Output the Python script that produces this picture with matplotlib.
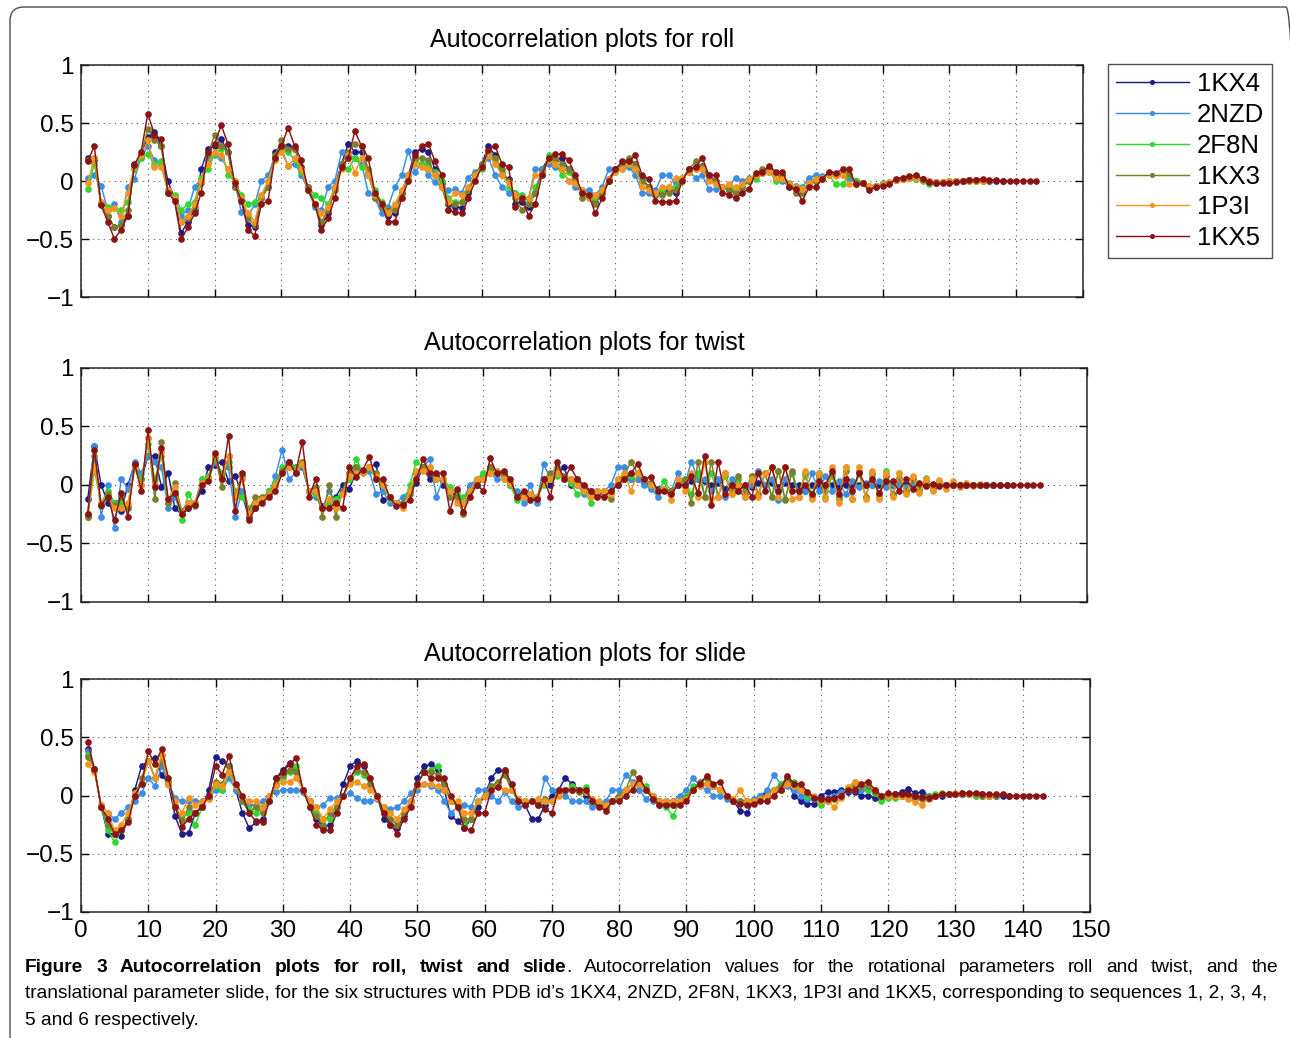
import matplotlib
matplotlib.use("Agg")
import matplotlib.pyplot as plt
from matplotlib import font_manager
from matplotlib.patches import FancyBboxPatch
from matplotlib.transforms import IdentityTransform

plt.rcParams['font.family'] = ['Liberation Sans', 'DejaVu Sans']

# ---------------- data (autocorrelation vs lag, lag starts at 1) ----------------
names = ["1KX4", "2NZD", "2F8N", "1KX3", "1P3I", "1KX5"]
colors = ["#1c1c86", "#3a8ee6", "#2fd82f", "#7d7d2c", "#f5951f", "#8a1414"]

roll_1kx4 = [0.20, 0.18, -0.20, -0.30, -0.40, -0.38, -0.30, 0.15, 0.22, 0.38, 0.42, 0.30, 0.00, -0.15, -0.45, -0.35, -0.25, 0.10, 0.28, 0.30,
             0.36, 0.25, -0.05, -0.15, -0.38, -0.40, -0.15, -0.05, 0.25, 0.30, 0.30, 0.28, 0.12, -0.05, -0.20, -0.38, -0.28, -0.05, 0.15, 0.32,
             0.25, 0.25, 0.05, -0.12, -0.20, -0.30, -0.28, -0.10, 0.05, 0.25, 0.28, 0.25, 0.10, -0.02, -0.20, -0.22, -0.23, -0.10, 0.05, 0.15,
             0.30, 0.22, 0.05, 0.02, -0.20, -0.18, -0.22, -0.10, 0.10, 0.20, 0.18, 0.20, 0.10, 0.00, -0.10, -0.12, -0.18, -0.10, 0.02, 0.10,
             0.12, 0.18, 0.15, 0.02, -0.05, -0.12, -0.10, -0.08, -0.10, 0.02, 0.10, 0.12, 0.13, 0.05, 0.00, -0.05, -0.08, -0.10, -0.05, 0.00,
             0.05, 0.08, 0.10, 0.05, 0.03, -0.03, -0.05, -0.08, -0.03, 0.00, 0.03, 0.06, 0.05, 0.06, 0.05, 0.00, -0.02, -0.05, -0.04, -0.03,
             -0.02, 0.01, 0.02, 0.03, 0.03, 0.02, 0.00, -0.01, -0.01, -0.01, 0.00, 0.00, 0.01, 0.01, 0.01, 0.00, 0.00, 0.00]
roll_2nzd = [0.03, 0.05, -0.04, -0.25, -0.20, -0.35, -0.05, 0.02, 0.20, 0.30, 0.18, 0.15, -0.08, -0.15, -0.30, -0.25, -0.05, 0.02, 0.18, 0.22,
             0.20, 0.10, 0.00, -0.27, -0.30, -0.20, 0.00, 0.05, 0.20, 0.28, 0.13, 0.15, 0.05, -0.08, -0.22, -0.25, -0.05, 0.00, 0.25, 0.22,
             0.20, 0.15, -0.10, -0.15, -0.28, -0.22, -0.05, 0.05, 0.26, 0.08, 0.15, 0.05, -0.01, -0.05, -0.08, -0.07, -0.10, 0.03, 0.08, 0.12,
             0.20, 0.05, -0.05, -0.10, -0.10, -0.15, -0.15, 0.10, 0.10, 0.15, 0.12, 0.10, 0.00, -0.05, -0.08, -0.08, -0.12, -0.05, 0.10, 0.10,
             0.10, 0.12, 0.05, -0.10, -0.10, -0.08, 0.05, 0.05, -0.02, 0.03, 0.08, 0.03, 0.05, -0.07, -0.07, -0.05, -0.05, 0.03, 0.00, 0.03,
             0.05, 0.07, 0.08, 0.02, 0.00, -0.05, -0.04, -0.05, 0.03, 0.05, 0.04, 0.07, 0.05, 0.05, 0.02, -0.02, -0.02, -0.04, -0.04, -0.02,
             -0.01, 0.01, 0.02, 0.03, 0.02, 0.01, 0.00, -0.01, -0.01, 0.00, 0.00, 0.00, 0.00, 0.00, 0.00, 0.00]
roll_2f8n = [-0.07, 0.15, -0.18, -0.22, -0.23, -0.25, -0.18, 0.10, 0.20, 0.23, 0.15, 0.17, -0.10, -0.12, -0.25, -0.20, -0.18, 0.03, 0.10, 0.23,
             0.28, 0.05, 0.00, -0.12, -0.20, -0.18, -0.15, 0.00, 0.18, 0.28, 0.25, 0.18, 0.08, -0.05, -0.12, -0.15, -0.20, -0.05, 0.12, 0.10,
             0.20, 0.12, 0.08, -0.08, -0.18, -0.25, -0.22, -0.08, 0.02, 0.18, 0.15, 0.15, 0.08, 0.00, -0.15, -0.18, -0.18, -0.08, 0.05, 0.10,
             0.22, 0.18, 0.08, -0.05, -0.10, -0.12, -0.18, -0.05, 0.05, 0.22, 0.15, 0.05, 0.08, 0.00, -0.08, -0.12, -0.15, -0.10, 0.00, 0.08,
             0.12, 0.15, 0.12, 0.00, -0.05, -0.10, -0.08, -0.05, -0.05, 0.02, 0.08, 0.10, 0.12, 0.02, -0.02, -0.05, -0.05, -0.08, -0.05, 0.00,
             0.02, 0.07, 0.10, 0.00, 0.05, -0.02, -0.05, -0.06, -0.02, 0.02, 0.03, 0.05, -0.03, -0.03, 0.05, 0.00, -0.02, -0.05, -0.04, -0.03,
             -0.02, 0.01, 0.02, 0.03, 0.02, 0.00, -0.03, -0.02, -0.01, 0.00, 0.00, 0.00, 0.00, 0.00]
roll_1kx3 = [0.18, 0.20, -0.20, -0.30, -0.40, -0.38, -0.25, 0.12, 0.22, 0.45, 0.35, 0.30, -0.08, -0.15, -0.35, -0.32, -0.22, -0.02, 0.22, 0.40,
             0.30, 0.25, -0.05, -0.15, -0.32, -0.38, -0.15, -0.05, 0.22, 0.35, 0.28, 0.28, 0.10, -0.05, -0.20, -0.35, -0.25, -0.08, 0.15, 0.25,
             0.32, 0.30, 0.10, -0.15, -0.22, -0.25, -0.25, -0.10, 0.05, 0.20, 0.20, 0.18, 0.05, -0.05, -0.25, -0.20, -0.18, -0.08, 0.05, 0.15,
             0.25, 0.20, 0.10, 0.00, -0.15, -0.25, -0.20, -0.10, 0.08, 0.18, 0.20, 0.15, 0.10, 0.02, -0.15, -0.12, -0.20, -0.10, 0.00, 0.10,
             0.15, 0.20, 0.15, 0.00, -0.05, -0.12, -0.12, -0.10, -0.08, 0.02, 0.10, 0.17, 0.12, 0.02, 0.00, -0.05, -0.08, -0.10, -0.05, 0.00,
             0.05, 0.10, 0.10, 0.05, 0.05, -0.03, -0.10, -0.10, -0.03, 0.00, 0.02, 0.06, 0.05, 0.07, 0.06, -0.02, -0.02, -0.05, -0.05, -0.03,
             -0.02, 0.01, 0.03, 0.03, 0.04, 0.01, -0.01, -0.02, -0.01, -0.01, 0.00, 0.00, 0.01, 0.01, 0.00, 0.00]
roll_1p3i = [-0.02, 0.20, -0.18, -0.25, -0.23, -0.30, -0.10, 0.12, 0.22, 0.35, 0.12, 0.12, -0.08, -0.15, -0.35, -0.30, -0.20, 0.00, 0.15, 0.25,
             0.22, 0.10, 0.00, -0.15, -0.28, -0.35, -0.12, 0.00, 0.18, 0.25, 0.13, 0.20, 0.10, -0.08, -0.20, -0.28, -0.22, -0.05, 0.10, 0.22,
             0.07, 0.20, 0.05, -0.12, -0.20, -0.28, -0.20, -0.08, 0.05, 0.15, 0.12, 0.10, 0.05, -0.05, -0.18, -0.10, -0.12, -0.05, 0.05, 0.12,
             0.22, 0.15, 0.05, -0.02, -0.12, -0.15, -0.15, 0.05, 0.05, 0.18, 0.15, 0.10, 0.00, -0.02, -0.08, -0.15, -0.12, -0.08, 0.02, 0.08,
             0.10, 0.15, 0.10, -0.05, -0.08, -0.10, -0.05, -0.05, 0.03, 0.03, 0.08, 0.10, 0.10, 0.00, -0.03, -0.05, -0.03, -0.05, -0.03, 0.02,
             0.05, 0.07, 0.08, 0.03, 0.02, -0.03, -0.05, -0.07, -0.02, 0.02, 0.03, 0.05, 0.04, 0.05, -0.03, -0.03, -0.02, -0.04, -0.04, -0.03,
             -0.01, 0.01, 0.02, 0.03, 0.03, 0.01, 0.00, -0.01, -0.01, 0.00, 0.00, 0.00, 0.00, 0.00, 0.00]
roll_1kx5 = [0.17, 0.30, -0.21, -0.35, -0.50, -0.42, -0.30, 0.14, 0.25, 0.58, 0.40, 0.36, -0.10, -0.17, -0.50, -0.40, -0.28, -0.10, 0.25, 0.32,
             0.48, 0.32, -0.02, -0.17, -0.42, -0.47, -0.20, -0.17, 0.20, 0.30, 0.46, 0.30, 0.18, -0.08, -0.20, -0.42, -0.32, -0.15, 0.12, 0.20,
             0.43, 0.30, 0.20, -0.10, -0.20, -0.35, -0.35, -0.15, 0.00, 0.22, 0.30, 0.32, 0.17, 0.05, -0.25, -0.27, -0.28, -0.15, 0.00, 0.12,
             0.27, 0.30, 0.15, 0.12, -0.22, -0.15, -0.30, -0.20, 0.05, 0.20, 0.23, 0.23, 0.18, 0.05, -0.10, -0.12, -0.28, -0.15, 0.00, 0.10,
             0.17, 0.17, 0.22, 0.05, 0.02, -0.17, -0.18, -0.18, -0.17, 0.00, 0.10, 0.12, 0.20, 0.05, 0.05, -0.10, -0.12, -0.15, -0.10, -0.07,
             0.07, 0.08, 0.13, 0.08, 0.08, -0.05, -0.07, -0.17, -0.05, -0.05, 0.02, 0.08, 0.07, 0.10, 0.10, -0.03, -0.02, -0.08, -0.05, -0.04,
             -0.03, 0.02, 0.03, 0.04, 0.05, 0.02, -0.01, -0.02, -0.02, -0.02, -0.01, 0.00, 0.01, 0.01, 0.02, 0.01, 0.01, 0.00, 0.00, 0.00,
             0.00, 0.00, 0.00]

twist_1kx4 = [-0.12, 0.33, 0.00, -0.15, -0.15, -0.22, 0.00, 0.18, 0.05, 0.25, 0.25, -0.02, 0.10, -0.20, -0.25, -0.20, -0.15, -0.05, 0.15, 0.17,
              0.20, 0.03, 0.08, -0.08, -0.27, -0.20, -0.12, -0.05, 0.00, 0.12, 0.20, 0.15, 0.15, -0.05, -0.05, -0.18, -0.15, -0.10, 0.00, -0.03,
              0.10, 0.12, 0.15, 0.18, -0.13, -0.10, -0.15, -0.15, -0.05, 0.02, 0.15, 0.05, 0.08, 0.00, -0.05, -0.10, -0.15, -0.02, 0.00, 0.05,
              0.15, 0.10, 0.10, 0.00, -0.08, -0.10, -0.10, -0.12, 0.05, 0.00, 0.10, 0.15, 0.00, 0.05, -0.03, -0.05, -0.08, -0.05, -0.05, 0.00,
              0.05, 0.05, 0.05, 0.02, 0.00, -0.03, -0.03, -0.05, 0.00, 0.00, 0.03, 0.05, 0.03, 0.00, 0.02, -0.03, 0.00, -0.02, 0.00, -0.02,
              0.02, 0.00, 0.02, -0.02, 0.02, 0.00, 0.00, -0.05, 0.00, -0.02, 0.00, 0.00, -0.02, 0.00, 0.00, 0.00, 0.00, 0.00, 0.00, 0.00,
              0.00, 0.00, 0.00, 0.00, 0.00, 0.00, 0.00, 0.00, 0.00, 0.00, 0.00, 0.00, 0.00, 0.00, 0.00, 0.00, 0.00, 0.00]
twist_2nzd = [-0.25, 0.33, -0.27, 0.00, -0.37, 0.05, -0.03, 0.20, 0.10, 0.25, 0.20, 0.15, -0.20, -0.10, -0.25, -0.15, -0.15, 0.05, 0.05, 0.20,
              0.10, 0.15, -0.27, -0.05, -0.25, -0.15, -0.12, -0.08, 0.08, 0.30, 0.05, 0.10, 0.15, -0.05, -0.10, -0.20, -0.05, -0.15, -0.05, 0.05,
              0.15, 0.10, 0.12, -0.08, -0.05, -0.15, -0.15, -0.10, -0.05, 0.10, 0.15, 0.22, -0.10, 0.05, -0.05, -0.05, -0.12, 0.00, 0.05, 0.08,
              0.10, 0.05, 0.10, 0.00, -0.05, -0.15, 0.00, -0.15, 0.18, 0.05, 0.10, 0.05, 0.05, 0.00, -0.08, -0.05, -0.05, -0.05, 0.00, 0.15,
              0.15, 0.05, 0.05, 0.00, -0.03, -0.10, -0.03, -0.05, 0.10, 0.00, 0.20, 0.05, 0.05, -0.05, 0.05, -0.10, 0.05, -0.05, -0.10, 0.00,
              0.12, 0.00, 0.05, -0.13, 0.05, 0.10, -0.05, -0.05, 0.10, -0.05, 0.08, -0.05, 0.03, -0.08, 0.03, -0.02, 0.02, 0.00, 0.03, -0.02,
              0.01, 0.00, -0.02, 0.01, 0.00, 0.00, 0.00, 0.00, 0.00, 0.00, 0.00, 0.00, 0.00, 0.00, 0.00, 0.00]
twist_2f8n = [-0.27, 0.12, -0.15, -0.05, -0.15, -0.15, -0.18, 0.15, 0.05, 0.35, 0.05, 0.25, -0.15, -0.05, -0.30, -0.08, -0.18, 0.05, 0.08, 0.22,
              0.10, 0.20, -0.05, -0.10, -0.20, -0.15, -0.12, -0.05, 0.02, 0.15, 0.18, 0.15, 0.20, -0.05, -0.08, -0.20, -0.15, -0.12, -0.05, 0.05,
              0.22, 0.12, 0.15, 0.05, 0.00, -0.12, -0.15, -0.18, 0.00, 0.20, 0.15, 0.15, 0.05, 0.05, -0.02, -0.08, -0.10, -0.05, 0.05, 0.10,
              0.10, 0.12, 0.05, 0.00, -0.13, -0.10, -0.10, -0.10, 0.00, 0.05, 0.08, 0.05, 0.02, -0.08, -0.05, -0.15, -0.05, -0.05, -0.05, 0.02,
              0.05, 0.08, 0.10, 0.05, 0.00, -0.05, 0.03, -0.05, 0.02, 0.05, -0.08, 0.10, -0.10, 0.10, -0.10, 0.08, -0.08, 0.05, -0.05, 0.08,
              -0.08, 0.10, -0.10, 0.12, -0.12, 0.10, -0.10, 0.08, -0.08, 0.10, -0.10, 0.08, -0.12, 0.15, -0.12, 0.10, -0.10, 0.08, -0.10, 0.12,
              -0.08, 0.10, -0.05, 0.05, -0.05, 0.06, -0.03, 0.03, 0.00, 0.02, 0.00, 0.01, 0.00, 0.00]
twist_1kx3 = [-0.27, 0.25, -0.18, -0.08, -0.18, -0.10, -0.20, 0.15, 0.00, 0.40, -0.12, 0.37, -0.15, 0.02, -0.22, -0.15, -0.15, 0.02, 0.05, 0.25,
              -0.02, 0.25, -0.10, 0.08, -0.22, -0.10, -0.10, -0.08, 0.00, 0.12, 0.15, 0.12, 0.20, -0.05, -0.02, -0.27, 0.00, -0.27, -0.05, 0.10,
              0.15, 0.12, 0.15, 0.10, 0.00, -0.10, -0.15, -0.15, -0.08, 0.10, 0.15, 0.10, 0.05, 0.05, -0.10, -0.10, -0.25, -0.05, 0.00, 0.05,
              0.15, 0.10, 0.08, 0.02, -0.10, -0.08, -0.08, -0.10, 0.05, 0.10, 0.15, 0.08, 0.05, 0.02, -0.05, -0.08, -0.05, -0.08, -0.12, 0.05,
              0.08, 0.20, 0.10, 0.05, 0.02, -0.05, -0.03, -0.05, 0.00, 0.05, -0.15, 0.20, -0.10, 0.20, -0.10, 0.10, -0.05, 0.08, -0.08, 0.08,
              -0.08, 0.10, -0.10, 0.12, -0.13, 0.12, -0.10, 0.10, -0.10, 0.08, -0.05, 0.10, -0.10, 0.12, -0.12, 0.12, -0.10, 0.10, -0.08, 0.08,
              -0.08, 0.06, -0.05, 0.05, -0.03, 0.03, -0.02, 0.02, 0.00, 0.00, 0.00, 0.00, 0.00, 0.00, 0.00, 0.00]
twist_1p3i = [-0.25, 0.15, -0.15, -0.10, -0.20, -0.20, -0.15, 0.15, 0.00, 0.40, 0.00, 0.28, -0.12, -0.02, -0.25, -0.15, -0.15, 0.02, 0.05, 0.25,
              0.05, 0.25, -0.10, 0.05, -0.25, -0.15, -0.12, -0.08, 0.00, 0.10, 0.15, 0.12, 0.18, -0.05, -0.05, -0.20, -0.12, -0.20, -0.08, 0.08,
              0.10, 0.10, 0.15, 0.08, 0.00, -0.10, -0.15, -0.20, -0.05, 0.12, 0.12, 0.15, 0.05, 0.05, -0.05, -0.15, -0.15, -0.05, 0.05, 0.05,
              0.10, 0.12, 0.05, 0.02, -0.10, -0.10, -0.08, -0.10, 0.02, 0.05, 0.10, 0.05, 0.05, 0.00, -0.05, -0.10, -0.05, -0.05, -0.08, 0.05,
              0.10, -0.05, 0.10, 0.05, 0.00, -0.05, -0.03, -0.13, 0.05, -0.05, 0.10, -0.10, 0.20, -0.12, -0.10, 0.10, -0.08, 0.00, -0.10, 0.05,
              -0.10, 0.10, 0.15, -0.10, 0.15, -0.12, -0.10, 0.12, -0.12, 0.10, -0.12, 0.15, -0.15, 0.15, -0.12, 0.15, -0.12, 0.12, -0.12, 0.10,
              -0.10, 0.10, -0.08, 0.08, -0.07, 0.05, -0.05, 0.04, -0.03, 0.03, -0.02, 0.02, -0.01, 0.01, 0.00]
twist_1kx5 = [-0.25, 0.30, -0.17, -0.10, -0.30, -0.07, -0.27, 0.18, -0.05, 0.47, -0.02, 0.32, -0.12, -0.07, -0.25, -0.20, -0.17, 0.00, 0.03, 0.27,
              0.05, 0.42, -0.22, 0.10, -0.30, -0.20, -0.15, -0.10, -0.05, 0.10, 0.20, 0.10, 0.37, -0.10, 0.05, -0.20, -0.20, -0.15, -0.20, 0.15,
              0.07, 0.13, 0.24, 0.05, 0.05, -0.10, -0.18, -0.17, -0.13, 0.05, 0.22, 0.10, 0.10, 0.10, -0.22, -0.03, -0.23, -0.10, 0.00, -0.05,
              0.23, 0.10, 0.12, 0.05, -0.10, -0.05, -0.13, -0.12, 0.05, -0.10, 0.20, 0.05, 0.15, 0.05, 0.00, -0.05, -0.10, -0.10, -0.05, 0.00,
              0.05, 0.10, 0.18, 0.05, 0.07, -0.05, -0.05, -0.08, 0.00, 0.00, 0.08, -0.07, 0.25, -0.17, 0.20, -0.08, 0.00, -0.05, 0.00, -0.10,
              0.10, -0.05, 0.15, -0.05, 0.15, -0.05, -0.05, 0.00, -0.08, 0.03, 0.00, 0.12, -0.08, 0.05, -0.05, 0.10, 0.00, 0.05, -0.07, 0.03,
              0.03, -0.05, 0.05, -0.03, 0.02, -0.01, 0.01, -0.01, 0.00, 0.00, 0.00, 0.00, 0.00, 0.00, 0.00, 0.00, 0.00, 0.00, 0.00, 0.00,
              0.00, 0.00, 0.00]

slide_1kx4 = [0.40, 0.23, -0.10, -0.33, -0.33, -0.35, -0.20, 0.05, 0.25, 0.30, 0.32, 0.18, 0.10, -0.18, -0.33, -0.32, -0.15, -0.10, 0.05, 0.33,
              0.30, 0.25, 0.05, -0.15, -0.28, -0.23, -0.20, -0.05, 0.15, 0.22, 0.28, 0.20, 0.05, -0.05, -0.20, -0.27, -0.25, -0.10, 0.10, 0.25,
              0.30, 0.25, 0.10, 0.00, -0.20, -0.25, -0.28, -0.18, -0.05, 0.15, 0.25, 0.27, 0.22, 0.05, -0.18, -0.22, -0.28, -0.20, -0.10, 0.00,
              0.15, 0.22, 0.20, 0.05, -0.05, -0.08, -0.20, -0.20, -0.08, 0.00, 0.05, 0.15, 0.10, 0.05, 0.00, -0.05, -0.08, -0.10, -0.05, 0.00,
              0.05, 0.10, 0.10, 0.05, -0.02, -0.05, -0.05, -0.05, -0.05, 0.00, 0.05, 0.10, 0.10, 0.08, 0.05, 0.00, -0.05, -0.13, -0.15, -0.05,
              0.00, 0.02, 0.05, 0.05, 0.12, 0.00, -0.05, -0.07, -0.07, 0.00, 0.03, 0.03, 0.05, 0.03, 0.03, 0.00, 0.00, -0.02, -0.03, 0.00,
              0.01, 0.03, 0.06, 0.02, 0.03, 0.00, 0.00, 0.00, 0.01, 0.01, 0.01, 0.01, 0.01, 0.01, 0.00, 0.00, 0.00, 0.00]
slide_2nzd = [0.38, 0.23, -0.08, -0.15, -0.20, -0.15, -0.10, -0.05, 0.02, 0.15, 0.08, 0.25, 0.10, -0.02, -0.05, -0.05, -0.05, -0.05, -0.02, 0.05,
              0.05, 0.15, 0.05, -0.05, -0.08, -0.08, -0.05, 0.00, 0.03, 0.05, 0.05, 0.05, 0.03, -0.05, -0.10, -0.08, -0.02, -0.02, 0.00, 0.02,
              -0.02, -0.05, -0.05, -0.03, -0.10, -0.12, -0.10, -0.05, 0.02, 0.05, 0.10, 0.08, 0.05, -0.05, -0.15, -0.10, -0.08, -0.10, 0.05, 0.05,
              0.00, -0.05, 0.03, -0.05, -0.10, -0.08, -0.05, -0.08, 0.15, 0.05, 0.05, 0.00, -0.05, -0.05, -0.05, -0.10, -0.08, -0.05, 0.05, 0.05,
              0.18, 0.12, 0.05, -0.03, -0.05, -0.08, -0.05, -0.05, 0.00, 0.05, 0.15, 0.08, 0.05, 0.00, 0.00, -0.03, -0.05, -0.05, -0.05, -0.03,
              0.00, 0.05, 0.18, 0.10, 0.08, 0.05, 0.00, -0.03, -0.03, -0.05, -0.02, 0.00, 0.03, 0.05, 0.05, 0.05, 0.05, 0.02, 0.00, 0.00,
              0.00, 0.00, 0.00, -0.01, -0.01, 0.00, 0.00, 0.01, 0.01, 0.01, 0.01, 0.01, 0.00, 0.00, 0.00, 0.00]
slide_2f8n = [0.35, 0.22, -0.10, -0.30, -0.40, -0.30, -0.20, 0.02, 0.10, 0.30, 0.15, 0.35, 0.12, -0.10, -0.20, -0.15, -0.25, -0.10, 0.00, 0.08,
              0.05, 0.20, 0.08, -0.05, -0.12, -0.15, -0.10, -0.05, 0.10, 0.15, 0.20, 0.25, 0.05, -0.10, -0.15, -0.20, -0.20, -0.10, 0.00, 0.12,
              0.20, 0.18, 0.10, 0.00, -0.15, -0.20, -0.25, -0.15, -0.05, 0.10, 0.20, 0.22, 0.25, 0.10, -0.05, -0.10, -0.25, -0.20, -0.05, 0.00,
              0.08, 0.10, 0.22, 0.05, -0.05, -0.05, -0.05, -0.05, -0.05, -0.05, 0.03, 0.05, 0.08, 0.05, 0.07, -0.05, -0.07, -0.10, -0.05, 0.00,
              0.05, 0.10, 0.12, 0.08, 0.00, -0.05, -0.10, -0.18, -0.05, 0.00, 0.08, 0.10, 0.15, 0.08, 0.05, 0.00, -0.05, -0.05, -0.07, -0.05,
              -0.03, 0.00, 0.05, 0.10, 0.15, 0.12, 0.05, 0.00, -0.02, -0.08, -0.05, -0.03, 0.00, 0.05, 0.12, 0.08, 0.05, 0.02, -0.05, -0.02,
              -0.02, 0.00, 0.00, -0.02, -0.02, 0.00, 0.01, 0.02, 0.01, 0.01, 0.01, 0.01, 0.00, 0.00]
slide_1kx3 = [0.33, 0.23, -0.10, -0.25, -0.33, -0.30, -0.20, 0.00, 0.15, 0.30, 0.15, 0.30, 0.12, -0.08, -0.22, -0.10, -0.15, -0.08, 0.00, 0.12,
              0.10, 0.25, 0.08, -0.05, -0.15, -0.10, -0.15, -0.05, 0.10, 0.18, 0.22, 0.20, 0.05, -0.10, -0.18, -0.25, -0.15, -0.10, 0.00, 0.15,
              0.22, 0.20, 0.10, 0.00, -0.15, -0.20, -0.25, -0.15, -0.05, 0.10, 0.20, 0.20, 0.18, 0.10, -0.05, -0.08, -0.20, -0.20, -0.05, 0.00,
              0.08, 0.12, 0.18, 0.05, -0.03, -0.05, -0.05, -0.05, -0.03, -0.05, 0.03, 0.05, 0.05, 0.03, 0.03, -0.03, -0.07, -0.10, -0.05, 0.00,
              0.05, 0.20, 0.12, 0.05, 0.00, -0.05, -0.07, -0.08, -0.05, -0.02, 0.05, 0.12, 0.15, 0.08, 0.05, 0.00, -0.05, -0.05, -0.05, -0.05,
              -0.03, 0.00, 0.05, 0.08, 0.15, 0.10, 0.05, 0.02, -0.02, -0.05, -0.05, -0.03, 0.00, 0.05, 0.08, 0.08, 0.08, 0.03, 0.00, 0.00,
              0.00, 0.00, 0.00, -0.03, -0.03, -0.01, 0.00, 0.01, 0.01, 0.01, 0.01, 0.01, 0.01, 0.00, 0.00, 0.00]
slide_1p3i = [0.27, 0.20, -0.08, -0.15, -0.30, -0.25, -0.15, 0.02, 0.10, 0.30, 0.15, 0.35, 0.10, -0.05, -0.15, -0.02, -0.08, -0.05, -0.03, 0.10,
              0.08, 0.20, 0.08, 0.00, -0.05, -0.05, -0.10, 0.00, 0.08, 0.12, 0.12, 0.15, 0.05, -0.05, -0.10, -0.20, -0.12, -0.05, 0.00, 0.10,
              0.12, 0.08, 0.05, -0.02, -0.10, -0.15, -0.20, -0.12, -0.05, 0.08, 0.10, 0.10, 0.08, 0.05, -0.05, -0.05, -0.15, -0.15, -0.05, 0.00,
              0.05, 0.08, 0.05, 0.05, -0.03, -0.05, -0.05, -0.03, -0.05, -0.05, 0.00, 0.05, 0.05, 0.05, 0.03, -0.03, -0.05, -0.08, -0.05, -0.03,
              0.05, 0.10, 0.10, 0.05, 0.00, -0.05, -0.05, -0.05, -0.05, -0.03, 0.05, 0.08, 0.10, 0.08, 0.05, 0.00, -0.03, 0.05, -0.05, -0.05,
              -0.03, 0.00, 0.05, 0.05, 0.10, 0.08, 0.05, 0.03, 0.00, -0.05, -0.05, -0.10, -0.02, 0.07, 0.12, 0.10, 0.12, 0.05, 0.00, 0.00,
              0.00, 0.00, -0.03, -0.06, -0.08, -0.03, 0.00, 0.01, 0.01, 0.02, 0.02, 0.01, 0.01, 0.01, 0.00]
slide_1kx5 = [0.46, 0.23, -0.10, -0.20, -0.33, -0.30, -0.23, 0.00, 0.10, 0.38, 0.27, 0.40, 0.15, -0.10, -0.27, -0.20, -0.15, -0.10, 0.00, 0.25,
              0.18, 0.34, 0.10, 0.00, -0.15, -0.22, -0.23, -0.05, 0.15, 0.20, 0.27, 0.32, 0.05, -0.10, -0.25, -0.30, -0.30, -0.15, 0.00, 0.15,
              0.25, 0.27, 0.15, 0.00, -0.15, -0.25, -0.33, -0.20, -0.10, 0.10, 0.20, 0.15, 0.15, 0.15, 0.00, -0.10, -0.28, -0.30, -0.15, -0.15,
              0.05, 0.07, 0.22, 0.10, -0.05, -0.08, -0.05, -0.08, -0.12, -0.15, 0.05, 0.05, 0.05, 0.05, 0.05, -0.05, -0.10, -0.13, -0.05, -0.05,
              0.00, 0.05, 0.15, 0.05, -0.03, -0.08, -0.08, -0.08, -0.08, -0.05, 0.05, 0.10, 0.17, 0.10, 0.12, 0.00, -0.05, -0.07, -0.08, -0.07,
              -0.05, -0.05, 0.00, 0.05, 0.17, 0.10, 0.10, 0.03, -0.02, -0.03, -0.03, -0.02, 0.00, 0.05, 0.05, 0.10, 0.12, 0.05, 0.00, 0.02,
              0.01, 0.01, 0.01, 0.00, -0.01, -0.02, 0.00, 0.01, 0.01, 0.01, 0.02, 0.02, 0.02, 0.01, 0.01, 0.01, 0.01, 0.00, 0.00, 0.00,
              0.00, 0.00, 0.00]

panels = [
    ("Autocorrelation plots for roll", [roll_1kx4, roll_2nzd, roll_2f8n, roll_1kx3, roll_1p3i, roll_1kx5]),
    ("Autocorrelation plots for twist", [twist_1kx4, twist_2nzd, twist_2f8n, twist_1kx3, twist_1p3i, twist_1kx5]),
    ("Autocorrelation plots for slide", [slide_1kx4, slide_2nzd, slide_2f8n, slide_1kx3, slide_1p3i, slide_1kx5]),
]

x_ticks = list(range(0, 151, 10))
y_ticks = [-1, -0.5, 0, 0.5, 1]
y_ticklabels = ["\u22121", "\u22120.5", "0", "0.5", "1"]

# ---------------- figure ----------------
W, H = 1290, 1038
fig = plt.figure(figsize=(W / 100, H / 100), dpi=100)

# outer rounded frame of the journal figure
frame = FancyBboxPatch((10, -12), 1290, H - 7 + 12,
                       boxstyle="round,pad=0,rounding_size=14",
                       transform=IdentityTransform(), fill=False,
                       ec="0.3", lw=1.0)
fig.add_artist(frame)

# axes boxes in pixels (left, top, right, bottom)
boxes = [(81, 65, 1083, 297), (81, 368, 1087, 602), (81, 679, 1090, 912)]

axes = []
for i, ((title, series), (l, t, r, b)) in enumerate(zip(panels, boxes)):
    ax = fig.add_axes([l / W, 1 - b / H, (r - l) / W, (b - t) / H])
    for name, col, vals in zip(names, colors, series):
        lags = list(range(1, len(vals) + 1))
        ax.plot(lags, vals, "-o", color=col, lw=1.05, ms=3.8, mec=col, label=name)
    ax.set_xlim(0, 150)
    ax.set_ylim(-1, 1)
    ax.set_xticks(x_ticks)
    ax.set_yticks(y_ticks)
    ax.set_yticklabels(y_ticklabels)
    ax.grid(True, linestyle=(0, (1, 4)), color="0.35", lw=0.8)
    ax.tick_params(direction="in", top=True, right=True, length=6, width=1,
                   labelsize=17.5, pad=5)
    ax.tick_params(axis="x", pad=6)
    if i < 2:
        ax.tick_params(labelbottom=False)
    for sp in ax.spines.values():
        sp.set_linewidth(1.1)
        sp.set_color("0.15")
    ax.set_title(title, fontsize=18, pad=13)
    axes.append(ax)

handles, labels = axes[0].get_legend_handles_labels()
leg = fig.legend(handles, labels, loc="upper left",
                 bbox_to_anchor=(1108 / W, 1 - 64 / H), bbox_transform=fig.transFigure,
                 fontsize=18.5, frameon=True, fancybox=False, edgecolor="0.15",
                 handlelength=2.85, handletextpad=0.3, labelspacing=0.27,
                 borderpad=0.3, borderaxespad=0, numpoints=1, markerscale=0.7)
leg.get_frame().set_linewidth(1.0)

# ---------------- caption ----------------
avail = {f.name for f in font_manager.fontManager.ttflist}
cap_family = "Liberation Sans Narrow" if "Liberation Sans Narrow" in avail else "Liberation Sans"

cap_bold_words = "Figure 3 Autocorrelation plots for roll, twist and slide".split()
cap_rest_words = "Autocorrelation values for the rotational parameters roll and twist, and the".split()
cap_line2 = ("translational parameter slide, for the six structures with PDB id\u2019s 1KX4, 2NZD, 2F8N, "
             "1KX3, 1P3I and 1KX5, corresponding to sequences 1, 2, 3, 4,")
cap_line3 = "5 and 6 respectively."

renderer = fig.canvas.get_renderer()
x_left = 25
base1, base2, base3 = 972, 998, 1025

# font size chosen so that line 2 spans the caption width
fs = 13.0
t2 = fig.text(x_left / W, 1 - base2 / H, cap_line2, fontsize=fs, family=cap_family, va="baseline", ha="left")
for _ in range(3):
    fs = fs * (1262 - x_left) / t2.get_window_extent(renderer).width
    t2.set_fontsize(fs)
fig.text(x_left / W, 1 - base3 / H, cap_line3, fontsize=fs, family=cap_family, va="baseline", ha="left")

# line 1: bold lead-in then normal text, justified to the right margin
tokens = [(w, "bold", True) for w in cap_bold_words] + [(".", "normal", False)] + \
         [(w, "normal", True) for w in cap_rest_words]
tokens[0] = (tokens[0][0], "bold", False)
texts = [fig.text(0, 1 - base1 / H, w, fontsize=fs, fontweight=wt, family=cap_family,
                  va="baseline", ha="left") for w, wt, _ in tokens]
widths = [t.get_window_extent(renderer).width for t in texts]
n_gaps = sum(1 for _, _, g in tokens if g)
gap = (1278 - x_left - sum(widths)) / n_gaps
x = x_left
for (w, wt, g), t, wd in zip(tokens, texts, widths):
    if g:
        x += gap
    t.set_x(x / W)
    x += wd

fig.savefig("out.png", dpi=100)
